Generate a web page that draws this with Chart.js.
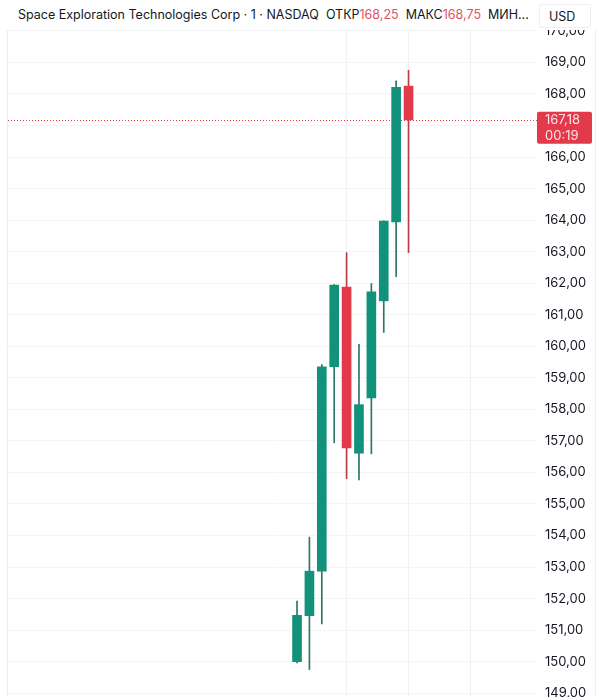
<!DOCTYPE html>
<html>
<head>
<meta charset="utf-8">
<script src="https://cdn.jsdelivr.net/npm/chart.js@4.4.1/dist/chart.umd.min.js"></script>
<style>
  html, body { margin: 0; padding: 0; background: #fff; }
  #wrap { position: relative; width: 601px; height: 697px; overflow: hidden; }
  #header {
    position: absolute; left: 0; top: 0; width: 601px; height: 30px;
    background: #fff; font-family: Inter, "Noto Sans", sans-serif; font-size: 12.5px;
    color: #131722; line-height: 30px; white-space: nowrap;
  }
  #title { position: absolute; left: 18px; top: 0; }
  #title .v { color: #e2535f; }
  #usd {
    position: absolute; left: 539px; top: 4px; width: 52px; height: 24px;
    border: 1px solid #eceef2; border-radius: 3px; line-height: 24px;
    box-sizing: border-box; padding-left: 9px; background: #fff;
  }
</style>
</head>
<body>
<div id="wrap">
  <canvas id="chart"></canvas>
  <div id="header">
    <span id="title"></span>
    <div id="usd">USD</div>
  </div>
</div>
<script>
// свечи по минутам, индексы по оси x
const candleIndex = [1, 2, 3, 4, 5, 6, 7, 8, 9, 10];
const opens  = [150.00, 151.46, 152.87, 159.35, 161.88, 156.61, 158.36, 161.44, 163.94, 168.25];
const highs  = [151.92, 153.95, 159.42, 161.96, 162.97, 160.06, 161.99, 163.98, 168.42, 168.75];
const lows   = [149.96, 149.75, 151.20, 156.94, 155.80, 155.76, 156.59, 160.44, 162.21, 162.97];
const closes = [151.47, 152.87, 159.35, 161.94, 156.78, 158.15, 161.73, 163.97, 168.21, 167.18];

const yTicks = [149, 150, 151, 152, 153, 154, 155, 156, 157, 158, 159, 160,
                161, 162, 163, 164, 165, 166, 167, 168, 169, 170];
const timeGrid = [5, 10, 15];

const lastPrice = 167.18;
const countdown = '00:19';
const symbolName = 'Space Exploration Technologies Corp · 1 · NASDAQ';

const UP = '#12917b';
const DOWN = '#e23a4b';
const UP_WICK = '#2c7567';
const DOWN_WICK = '#b83a47';

const fmt = v => v.toFixed(2).replace('.', ',');

document.getElementById('title').innerHTML =
    symbolName + '&nbsp; ОТКР<span class="v">' + fmt(opens[opens.length - 1]) +
    '</span>&nbsp; МАКС<span class="v">' + fmt(highs[highs.length - 1]) + '</span>&nbsp; МИН...';

const isUp = candleIndex.map((_, i) => closes[i] >= opens[i]);
const colors = isUp.map(u => u ? UP : DOWN);
const wickColors = isUp.map(u => u ? UP_WICK : DOWN_WICK);

const bodies = candleIndex.map((x, i) => ({x: x, y: [opens[i], closes[i]]}));
const wicks = candleIndex.map((x, i) => ({x: x, y: [lows[i], highs[i]]}));

const priceLine = {
    id: 'priceLine',
    beforeDatasetsDraw(chart) {
        const {ctx, chartArea, scales} = chart;
        const y = Math.round(scales.y.getPixelForValue(lastPrice)) + 0.5;
        ctx.save();
        ctx.strokeStyle = DOWN;
        ctx.lineWidth = 1;
        ctx.setLineDash([1, 2]);
        ctx.beginPath();
        ctx.moveTo(chartArea.left, y);
        ctx.lineTo(chartArea.right, y);
        ctx.stroke();
        ctx.restore();
    },
    afterDraw(chart) {
        const {ctx, chartArea, scales} = chart;
        const y = scales.y.getPixelForValue(lastPrice);
        ctx.save();
        // рамки панели
        ctx.strokeStyle = '#eceef2';
        ctx.lineWidth = 1;
        ctx.beginPath();
        ctx.moveTo(chartArea.left - 0.5, 0);
        ctx.lineTo(chartArea.left - 0.5, 697);
        ctx.moveTo(595.5, 0);
        ctx.lineTo(595.5, 697);
        ctx.stroke();
        // метка цены
        ctx.fillStyle = DOWN;
        ctx.beginPath();
        ctx.roundRect(chartArea.right, y - 8, 55, 32, 2);
        ctx.fill();
        ctx.fillStyle = '#fde4e6';
        ctx.font = '13px Inter, "Noto Sans", sans-serif';
        ctx.textBaseline = 'middle';
        ctx.textAlign = 'left';
        ctx.fillText(fmt(lastPrice), chartArea.right + 8, y + 0.5);
        ctx.fillText(countdown, chartArea.right + 8, y + 16);
        ctx.restore();
    }
};

new Chart(document.getElementById('chart'), {
    type: 'bar',
    data: {
        datasets: [{
            data: wicks,
            backgroundColor: wickColors,
            barThickness: 1,
            grouped: false,
            order: 2
        }, {
            data: bodies,
            backgroundColor: colors,
            barThickness: 9,
            grouped: false,
            order: 1
        }]
    },
    options: {
        responsive: true,
        maintainAspectRatio: false,
        animation: false,
        layout: {autoPadding: false, padding: {left: 8, right: 0, top: 0, bottom: 0}},
        plugins: {legend: {display: false}, tooltip: {enabled: false}},
        scales: {
            x: {
                type: 'linear',
                offset: false,
                min: -22.33,
                max: 20.37,
                grid: {offset: false, color: '#f0f1f4', drawTicks: false},
                border: {display: false},
                ticks: {display: false, padding: 0},
                afterBuildTicks: s => { s.ticks = timeGrid.map(v => ({value: v})); },
                afterFit: s => { s.height = 0; s.paddingLeft = 0; s.paddingRight = 0; }
            },
            y: {
                position: 'right',
                min: 148.88,
                max: 170.98,
                grid: {color: '#f3f4f6', drawTicks: false},
                border: {display: false},
                ticks: {
                    padding: 8,
                    color: '#131722',
                    font: {family: 'Inter, "Noto Sans", sans-serif', size: 13},
                    callback: v => fmt(v)
                },
                afterBuildTicks: s => { s.ticks = yTicks.map(v => ({value: v})); },
                afterFit: s => { s.width = 64; s.paddingTop = 0; s.paddingBottom = 0; }
            }
        }
    },
    plugins: [priceLine]
});
document.getElementById('chart').parentNode.style.height = '697px';
</script>
</body>
</html>
